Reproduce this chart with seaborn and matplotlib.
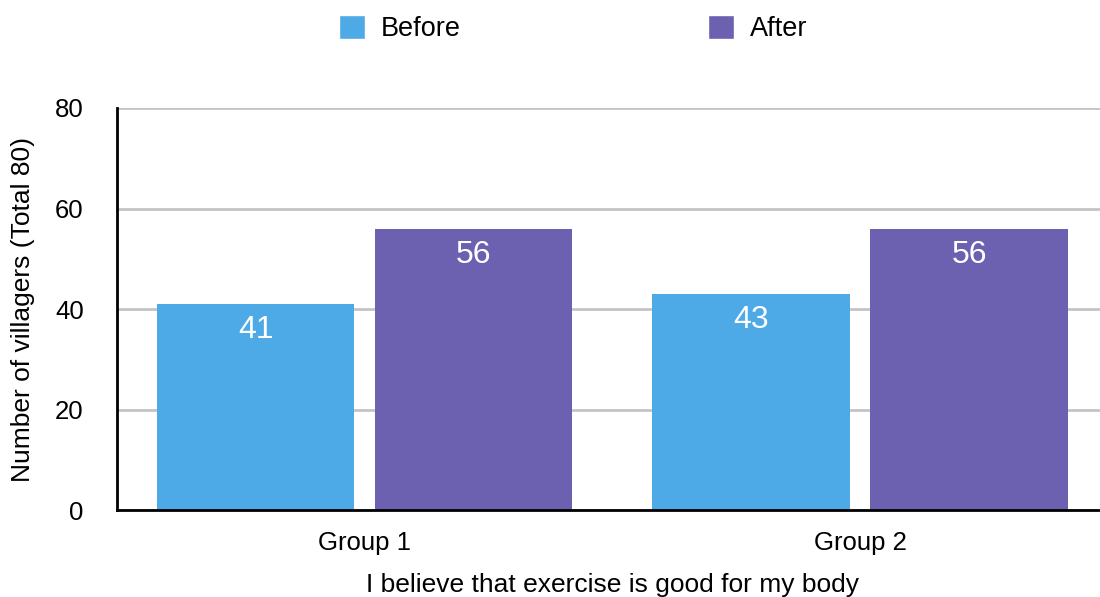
import pandas as pd
import seaborn as sns
import matplotlib.pyplot as plt
from matplotlib.patches import Patch

# data
groups = ["Group 1", "Group 2"]
before = [41, 43]
after = [56, 56]
series = ["Before", "After"]
colors = ["#4EAAE7", "#6C60B0"]

df = pd.DataFrame({
    "group": groups * 2,
    "when": ["Before"] * len(groups) + ["After"] * len(groups),
    "count": before + after,
})

sns.set_style("white")
plt.rcParams["font.family"] = ["Liberation Sans", "DejaVu Sans"]
plt.rcParams["text.color"] = "black"
plt.rcParams["axes.labelcolor"] = "black"
plt.rcParams["xtick.color"] = "black"
plt.rcParams["ytick.color"] = "black"

fig = plt.figure(figsize=(11, 5.97), dpi=100)
ax = fig.add_axes([0.1064, 0.1457, 0.9006, 0.6734])

sns.barplot(data=df, x="group", y="count", hue="when", hue_order=series,
            palette=colors, width=0.88, gap=0.095, saturation=1,
            linewidth=0, legend=False, ax=ax)

# value labels inside the top of each bar
for cont in ax.containers:
    for bar in cont:
        h = bar.get_height()
        ax.annotate(f"{h:.0f}", xy=(bar.get_x() + bar.get_width() / 2, h),
                    xytext=(0, -8), textcoords="offset points",
                    ha="center", va="top", color="white", fontsize=23)

ax.set_ylim(0, 80)
ax.set_yticks([0, 20, 40, 60, 80])
ax.set_xlim(-0.5, 1.5)
ax.yaxis.grid(True, color="#c4c4c4", linewidth=2)
ax.set_axisbelow(True)
for s in ["top", "right"]:
    ax.spines[s].set_visible(False)
for s in ["left", "bottom"]:
    ax.spines[s].set_color("black")
    ax.spines[s].set_linewidth(2)
ax.tick_params(axis="y", length=0, pad=24, labelsize=18.5)
ax.tick_params(axis="x", length=0, pad=15, labelsize=18.5)

ax.set_ylabel("Number of villagers (Total 80)", fontsize=19)
ax.set_xlabel("I believe that exercise is good for my body", fontsize=19, labelpad=13)
ax.yaxis.set_label_coords(-0.083, 0.5)

handles = [Patch(facecolor=c, label=l) for c, l in zip(colors, series)]
fig.legend(handles=handles, loc="center", bbox_to_anchor=(0.521, 0.952),
           ncol=2, frameon=False, fontsize=19.5, handlelength=0.96,
           handleheight=0.96, handletextpad=0.6, columnspacing=9.1)

fig.savefig("out.png", dpi=100)
